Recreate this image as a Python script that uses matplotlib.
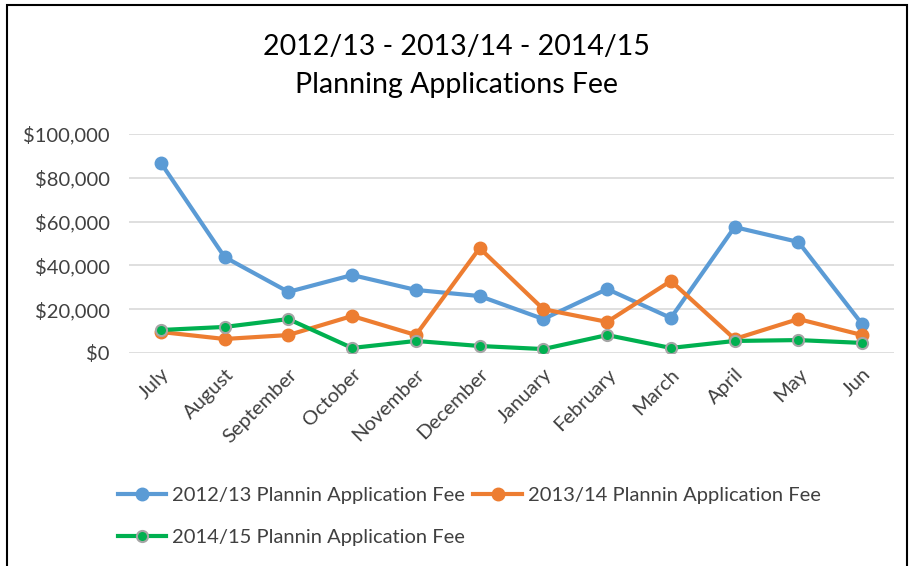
import matplotlib.pyplot as plt
from matplotlib.patches import Rectangle
from matplotlib.ticker import FuncFormatter

plt.rcParams["font.family"] = ["Lato", "DejaVu Sans"]

months = ["July", "August", "September", "October", "November", "December",
          "January", "February", "March", "April", "May", "Jun"]
fee_2012 = [86800, 43800, 27900, 35600, 28800, 26000,
            15500, 29200, 16000, 57500, 50700, 13200]
fee_2013 = [9600, 6400, 8200, 16900, 8200, 47900,
            20000, 14200, 32900, 6400, 15500, 8200]
fee_2014 = [10500, 11900, 15500, 2300, 5500, 3200,
            1800, 8200, 2300, 5500, 5900, 4600]
labels = ["2012/13 Plannin Application Fee",
          "2013/14 Plannin Application Fee",
          "2014/15 Plannin Application Fee"]

fig = plt.figure(figsize=(9.13, 5.66), dpi=100)
ax = fig.add_axes([129 / 913, 1 - 353 / 566, 765 / 913, 219 / 566])

x = range(len(months))
l1, = ax.plot(x, fee_2012, color="#5B9BD5", lw=3, marker="o", ms=9,
              label=labels[0])
l2, = ax.plot(x, fee_2013, color="#ED7D31", lw=3, marker="o", ms=9,
              label=labels[1])
l3, = ax.plot(x, fee_2014, color="#00B050", lw=3, marker="o", ms=8,
              mec="#A5A5A5", mew=1.5, label=labels[2])

ax.set_xlim(-0.5, len(months) - 0.5)
ax.set_ylim(0, 100000)
ax.set_yticks(range(0, 100001, 20000))
ax.yaxis.set_major_formatter(FuncFormatter(lambda v, p: f"${v:,.0f}"))
ax.set_xticks(list(x))
ax.set_xticklabels(months, rotation=45, ha="right", rotation_mode="anchor")
ax.tick_params(length=0, labelsize=14.5, labelcolor="#404040")
ax.tick_params(axis="y", pad=14)
ax.tick_params(axis="x", pad=9)
ax.grid(axis="y", color="#D9D9D9", lw=1.2)
ax.set_axisbelow(True)
for s in ax.spines.values():
    s.set_visible(False)

fig.text(0.5, 1 - 66 / 566, "2012/13 - 2013/14 - 2014/15\nPlanning Applications Fee",
         ha="center", va="center", fontsize=20.5, color="#000000", linespacing=1.55)

fig.legend(handles=[l1, l3, l2], ncol=2, loc="upper left",
           bbox_to_anchor=(100 / 913, 1 - 469 / 566), frameon=False,
           fontsize=14.5, handlelength=2.4, columnspacing=0.4, handletextpad=0.3,
           labelspacing=1.25, labelcolor="#404040")

fig.patches.append(Rectangle((7 / 913, -0.01), 900 / 913, 1 - 5 / 566 + 0.01,
                             transform=fig.transFigure, fill=False,
                             edgecolor="black", lw=1.5))

fig.savefig("out.png", dpi=100)
